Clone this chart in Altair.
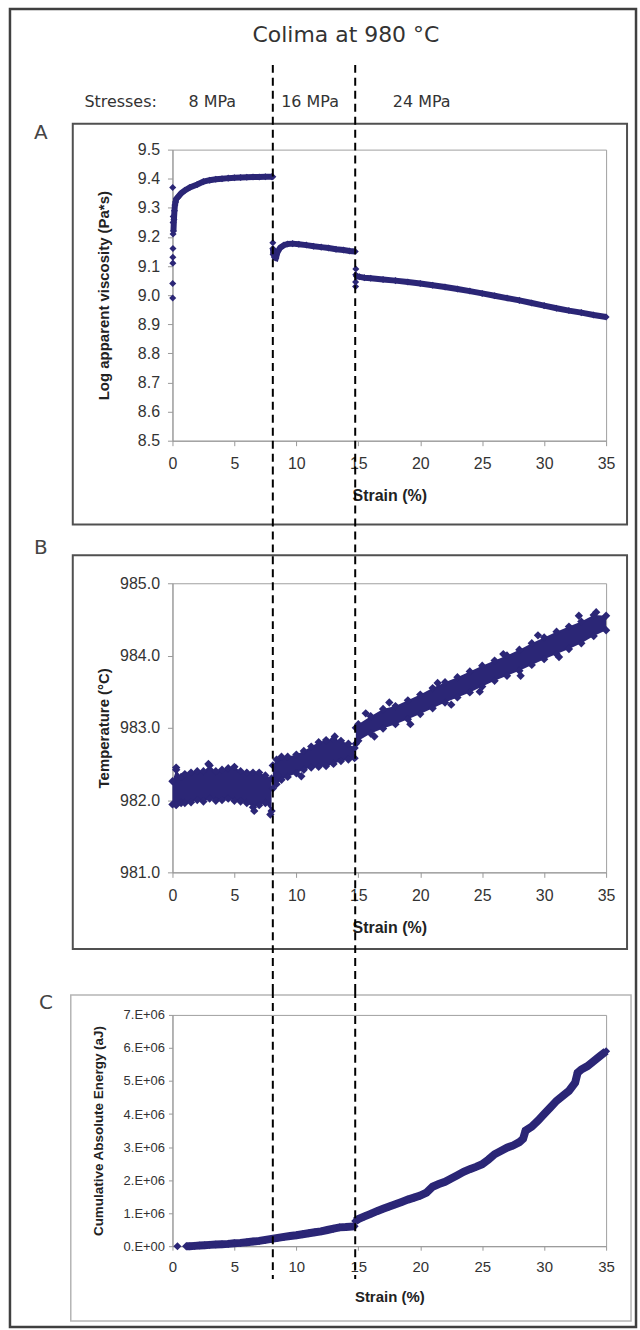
import altair as alt
import pandas as pd

# ---------------- data ----------------
# Panel A: log apparent viscosity (Pa*s) vs strain (%)
a_scatter_strain = [0.02, 0.02, 0.03, 0.03, 0.04, 0.05, 0.05, 0.06, 0.02, 8.10, 8.12, 14.78, 14.78, 14.79, 14.80]
a_scatter_val = [8.99, 9.04, 9.11, 9.13, 9.16, 9.21, 9.25, 9.27, 9.37, 9.18, 9.14, 9.03, 9.045, 9.07, 9.09]

a1_strain = [0.08, 0.12, 0.16, 0.20, 0.25, 0.30, 0.40, 0.50, 0.70, 1.0, 1.4, 2.0, 2.5, 3.0, 3.5, 4.0, 4.5, 5.0, 5.5, 6.0, 6.5, 7.0, 7.5, 8.0, 8.1]
a1_val = [9.22, 9.26, 9.29, 9.31, 9.32, 9.33, 9.335, 9.34, 9.35, 9.36, 9.37, 9.38, 9.39, 9.395, 9.398, 9.40, 9.402, 9.403, 9.404, 9.405, 9.406, 9.406, 9.407, 9.407, 9.407]
a2_strain = [8.1, 8.15, 8.25, 8.35, 8.5, 8.7, 9.0, 9.3, 9.7, 10.2, 10.8, 11.4, 12.0, 12.6, 13.2, 13.8, 14.3, 14.75]
a2_val = [9.16, 9.145, 9.13, 9.128, 9.15, 9.163, 9.172, 9.176, 9.177, 9.175, 9.172, 9.168, 9.165, 9.162, 9.158, 9.155, 9.152, 9.15]
a3_strain = [14.85, 15.1, 15.5, 16, 17, 18, 19, 20, 21, 22, 23, 24, 25, 26, 27, 28, 29, 30, 31, 32, 33, 34, 35]
a3_val = [9.065, 9.063, 9.06, 9.058, 9.054, 9.05, 9.045, 9.04, 9.034, 9.028, 9.021, 9.014, 9.006, 8.998, 8.99,
          8.982, 8.973, 8.964, 8.955, 8.947, 8.94, 8.932, 8.925]

# Panel B: temperature (°C) scatter cloud, read as lower / upper envelope per stress step
b1_strain = [0, 0.3, 0.7, 1, 1.5, 2, 2.5, 3, 3.5, 4, 4.5, 5, 5.5, 6, 6.5, 7, 7.5, 8]
b1_hi = [982.26, 982.42, 982.32, 982.36, 982.38, 982.40, 982.40, 982.48, 982.40, 982.42, 982.44, 982.46, 982.40, 982.38, 982.38, 982.38, 982.34, 982.30]
b1_lo = [981.94, 981.93, 981.96, 981.96, 981.97, 982.00, 981.98, 982.02, 981.99, 982.00, 982.02, 981.99, 981.98, 981.96, 981.90, 981.93, 981.96, 981.85]
b2_strain = [8.1, 8.4, 8.8, 9.3, 10, 10.6, 11.2, 11.8, 12.4, 13, 13.6, 14.2, 14.7]
b2_hi = [982.48, 982.56, 982.60, 982.60, 982.63, 982.68, 982.74, 982.80, 982.83, 982.84, 982.82, 982.78, 982.72]
b2_lo = [982.16, 982.22, 982.28, 982.32, 982.37, 982.42, 982.45, 982.46, 982.47, 982.50, 982.54, 982.56, 982.58]
b3_strain = [14.8, 15, 16, 17, 18, 19, 20, 21, 22, 23, 24, 25, 26, 27, 28, 29, 30, 31, 32, 33, 34, 35]
b3_hi = [983.0, 983.05, 983.16, 983.26, 983.3, 983.38, 983.46, 983.55, 983.63, 983.7, 983.78, 983.86, 983.93, 984.0,
         984.08, 984.17, 984.25, 984.33, 984.4, 984.47, 984.56, 984.55]
b3_lo = [982.78, 982.82, 982.92, 982.99, 983.05, 983.12, 983.19, 983.27, 983.35, 983.42, 983.49, 983.57, 983.65, 983.72,
         983.79, 983.87, 983.95, 984.02, 984.09, 984.17, 984.27, 984.35]
b_out_strain = [0.3, 2.9, 6.6, 7.9, 8.5, 10.4, 13.1, 15.6, 16.3, 17.5, 19.2, 21.4, 22.5, 24.8, 26.7, 28.1, 29.5, 31.2, 32.8, 34.2]
b_out_val = [982.45, 982.5, 981.85, 981.80, 982.34, 982.33, 982.88, 983.2, 982.88, 983.35, 983.05, 983.62, 983.32, 983.5,
             984.02, 983.72, 984.28, 983.98, 984.55, 984.6]

# Panel C: cumulative absolute energy (aJ)
c_iso_strain = [0.4]
c_iso_val = [0.0]
c1_strain = [1.1, 1.4, 1.8, 2.2, 2.6, 3, 3.5, 4, 4.5, 5, 5.5, 6, 6.5, 7, 7.5, 8, 8.5, 9, 9.5, 10, 10.5, 11, 11.5,
             12, 12.5, 13, 13.5, 14, 14.7]
c1_val = [0.0, 0.0, 0.01, 0.02, 0.03, 0.04, 0.05, 0.06, 0.07, 0.09, 0.10, 0.12, 0.14, 0.16, 0.19, 0.22, 0.25, 0.28,
          0.31, 0.33, 0.36, 0.39, 0.42, 0.45, 0.49, 0.53, 0.57, 0.58, 0.60]
c2_strain = [14.75, 15, 15.5, 16, 16.5, 17, 17.5, 18, 18.5, 19, 19.5, 20, 20.5, 21, 21.5, 22, 22.5, 23, 23.5, 24, 24.5,
             25, 25.5, 26, 26.5, 27, 27.5, 28, 28.3, 28.5, 29, 29.5, 30, 30.5, 31, 31.5, 32, 32.5, 32.7, 33, 33.5,
             34, 34.5, 35]
c2_val = [0.76, 0.82, 0.90, 0.98, 1.06, 1.13, 1.20, 1.27, 1.34, 1.41, 1.47, 1.53, 1.62, 1.80, 1.88, 1.95, 2.05, 2.15,
          2.25, 2.33, 2.40, 2.48, 2.62, 2.78, 2.88, 2.98, 3.05, 3.15, 3.25, 3.50, 3.62, 3.80, 4.00, 4.20, 4.40, 4.55,
          4.70, 4.95, 5.25, 5.35, 5.45, 5.60, 5.75, 5.90]

stress_boundaries = [8.1, 14.75]
x_ticks = [0, 5, 10, 15, 20, 25, 30, 35]
a_ticks = [8.5, 8.6, 8.7, 8.8, 8.9, 9.0, 9.1, 9.2, 9.3, 9.4, 9.5]
b_ticks = [981, 982, 983, 984, 985]
c_ticks = [0, 1e6, 2e6, 3e6, 4e6, 5e6, 6e6, 7e6]

title_text = "Colima at 980 °C"
stress_texts = ["Stresses:", "8 MPa", "16 MPa", "24 MPa"]

# ---------------- styling ----------------
NAVY = "#2b2676"
W = 435
HA, HB, HC = 292, 290, 232
GAP = 143
FONT = "Liberation Sans"
XS = alt.Scale(domain=[0, 35], nice=False, zero=False)


def xaxis(label_size, pad, title_size, title_y, tick=5):
    return alt.Axis(values=x_ticks, title="Strain (%)", grid=False, labelFlush=False, labelOverlap=False,
                    labelFontSize=label_size, labelPadding=pad, labelColor="#333", labelFont=FONT,
                    tickSize=tick, tickColor="#999", domainColor="#999",
                    titleFont=FONT, titleFontSize=title_size, titleFontWeight="bold", titleColor="#222",
                    titleX=W / 2, titleY=title_y, titleBaseline="middle", titleAlign="center", titleAngle=0)


def yaxis(values, title, label_size, pad, title_size, title_x, title_y, tick=5, fmt=None, expr=None):
    kw = dict(values=values, title=title, grid=False, labelOverlap=False,
              labelFontSize=label_size, labelPadding=pad, labelColor="#333", labelFont=FONT,
              tickSize=tick, tickColor="#999", domainColor="#999",
              titleFont=FONT, titleFontSize=title_size, titleFontWeight="bold", titleColor="#222",
              titleX=title_x, titleY=title_y, titleBaseline="middle", titleAlign="center", titleAngle=270)
    if fmt:
        kw["format"] = fmt
    if expr:
        kw["labelExpr"] = expr
    return alt.Axis(**kw)


def frame(x1, x2, y1, y2, color, width):
    return alt.Chart(pd.DataFrame({"k": [0]})).mark_rect(
        fill="white", fillOpacity=0, stroke=color, strokeWidth=width
    ).encode(x=alt.value(x1), x2=alt.value(x2), y=alt.value(y1), y2=alt.value(y2))


def label(text, x, y, size, font="DejaVu Sans", color="#333", weight="normal"):
    return alt.Chart(pd.DataFrame({"t": [text]})).mark_text(
        font=font, fontSize=size, color=color, fontWeight=weight, align="center", baseline="middle"
    ).encode(x=alt.value(x), y=alt.value(y), text="t:N")


def dashed(xax, y1, y2):
    return alt.Chart(pd.DataFrame({"strain": stress_boundaries})).mark_rule(
        color="black", strokeWidth=2, strokeDash=[8, 5]
    ).encode(x=alt.X("strain:Q", scale=XS, axis=xax), y=alt.value(y1), y2=alt.value(y2))


def diamonds(df, xax, yfield, ys, yax, size):
    return alt.Chart(df).mark_point(shape="diamond", filled=True, size=size, color=NAVY, opacity=1).encode(
        x=alt.X("strain:Q", scale=XS, axis=xax), y=alt.Y(f"{yfield}:Q", scale=ys, axis=yax))


# ---------------- panel A ----------------
xa = xaxis(16, 10, 16, 55)
YA = alt.Scale(domain=[8.5, 9.5], nice=False, zero=False)
ya = yaxis(a_ticks, "Log apparent viscosity (Pa*s)", 16, 8, 15, -69, HA / 2, fmt=".1f")

a_curve = pd.DataFrame({
    "strain": a1_strain + a2_strain + a3_strain,
    "val": a1_val + a2_val + a3_val,
    "seg": ["s1"] * len(a1_strain) + ["s2"] * len(a2_strain) + ["s3"] * len(a3_strain),
})
a_pts = pd.DataFrame({"strain": a_scatter_strain + a1_strain + a2_strain + a3_strain,
                      "val": a_scatter_val + a1_val + a2_val + a3_val})

line_a = alt.Chart(a_curve).mark_line(color=NAVY, strokeWidth=6).encode(
    x=alt.X("strain:Q", scale=XS, axis=xa), y=alt.Y("val:Q", scale=YA, axis=ya), detail="seg:N")

panel_a = alt.layer(
    alt.Chart(pd.DataFrame({"k": [0]})).mark_rect(opacity=0).encode(
        x=alt.value(-172), x2=alt.value(468), y=alt.value(-147), y2=alt.value(1183)),
    frame(-163, 465, -141, 1181, "#404040", 2.5),
    frame(-100, 456, -26, 376, "#505050", 2),
    label(title_text, 174, -115, 22),
    label(stress_texts[0], -52, -48, 16),
    label(stress_texts[1], 40, -48, 16),
    label(stress_texts[2], 138, -48, 16),
    label(stress_texts[3], 250, -48, 16),
    label("A", -132, -17, 20, color="#444"),
    line_a,
    diamonds(a_pts, xa, "val", YA, ya, 50),
    dashed(xa, -85, 408),
).properties(width=W, height=HA)

# ---------------- panel B ----------------
xb = xaxis(16, 10, 16, 55)
YB = alt.Scale(domain=[981, 985], nice=False, zero=False)
yb = yaxis(b_ticks, "Temperature (°C)", 16, 8, 15, -69, HB / 2, fmt=".1f")

b_env = pd.DataFrame({
    "strain": b1_strain + b2_strain + b3_strain,
    "lo": b1_lo + b2_lo + b3_lo,
    "hi": b1_hi + b2_hi + b3_hi,
    "seg": ["s1"] * len(b1_strain) + ["s2"] * len(b2_strain) + ["s3"] * len(b3_strain),
})
b_pts = pd.DataFrame({
    "strain": b1_strain + b2_strain + b3_strain + b1_strain + b2_strain + b3_strain + b_out_strain,
    "val": b1_lo + b2_lo + b3_lo + b1_hi + b2_hi + b3_hi + b_out_val,
})
area_b = alt.Chart(b_env).mark_area(color=NAVY, opacity=1).encode(
    x=alt.X("strain:Q", scale=XS, axis=xb), y=alt.Y("lo:Q", scale=YB, axis=yb), y2="hi:Q", detail="seg:N")

panel_b = alt.layer(
    frame(-100, 456, -28, 367, "#505050", 2),
    label("B", -132, -35, 20, color="#444"),
    area_b,
    diamonds(b_pts, xb, "val", YB, yb, 70),
    dashed(xb, -27, 408),
).properties(width=W, height=HB)

# ---------------- panel C ----------------
xc = xaxis(15, 9, 15, 50, tick=4)
YC = alt.Scale(domain=[0, 7e6], nice=False, zero=True)
yc = yaxis(c_ticks, "Cumulative Absolute Energy (aJ)", 13, 4, 13.5, -74, HC / 2, tick=4,
           expr="datum.value == 0 ? '0.E+00' : format(datum.value / 1000000, 'd') + '.E+06'")

c_curve = pd.DataFrame({
    "strain": c1_strain + c2_strain,
    "val": [v * 1e6 for v in c1_val + c2_val],
    "seg": ["s1"] * len(c1_strain) + ["s2"] * len(c2_strain),
})
c_pts = pd.DataFrame({"strain": c_iso_strain + c1_strain + c2_strain,
                      "val": [v * 1e6 for v in c_iso_val + c1_val + c2_val]})
line_c = alt.Chart(c_curve).mark_line(color=NAVY, strokeWidth=8).encode(
    x=alt.X("strain:Q", scale=XS, axis=xc), y=alt.Y("val:Q", scale=YC, axis=yc), detail="seg:N")

panel_c = alt.layer(
    frame(-102, 460, -20, 307, "#b5b5b5", 1.5),
    label("C", -127, -12, 20, color="#444"),
    line_c,
    diamonds(c_pts, xc, "val", YC, yc, 65),
    dashed(xc, -25, 265),
).properties(width=W, height=HC)

chart = alt.vconcat(panel_a, panel_b, panel_c, spacing=GAP, bounds="flush").properties(
    padding=0, background="white"
).configure_view(stroke="#a0a0a0", strokeWidth=1)

chart.save("out.html", embed_options={"renderer": "svg", "actions": False})
